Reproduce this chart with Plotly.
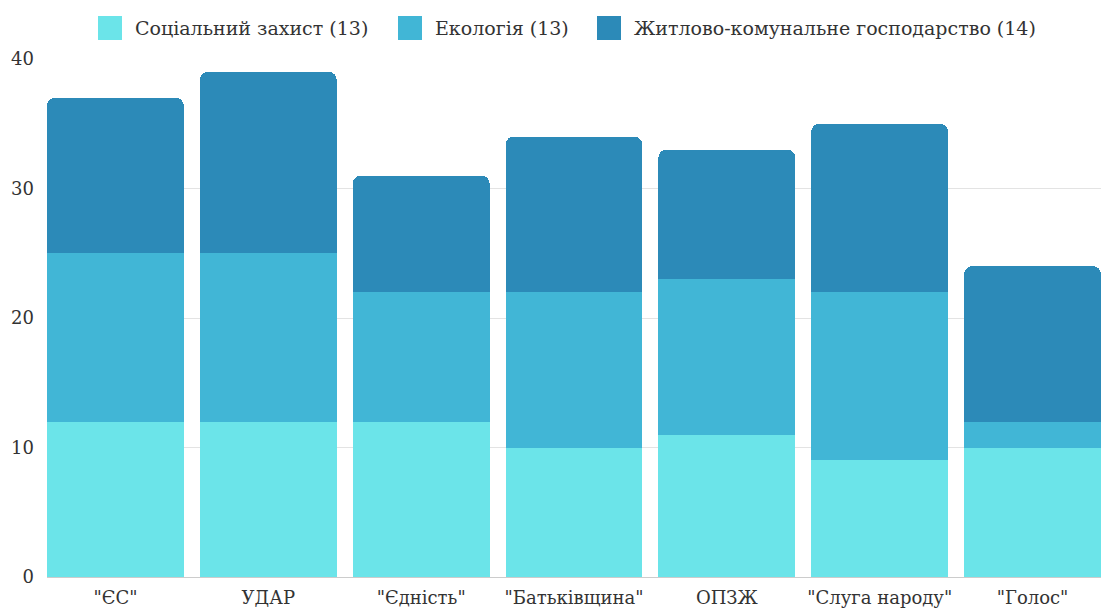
import plotly.graph_objects as go

categories = ['"ЄС"', 'УДАР', '"Єдність"', '"Батьківщина"', 'ОПЗЖ', '"Слуга народу"', '"Голос"']
social = [12, 12, 12, 10, 11, 9, 10]
ecology = [13, 13, 10, 12, 12, 13, 2]
housing = [12, 14, 9, 12, 10, 13, 12]

series_names = ["Соціальний захист (13)", "Екологія (13)", "Житлово-комунальне господарство (14)"]
colors = ["#6BE4E9", "#41B6D6", "#2C8AB8"]
legend_px = [98, 398, 597]  # left pixel of each legend square

FONT = "DejaVu Serif"
L, R, T, B, W, H = 47, 0, 59, 31, 1101, 608
pw, ph = W - L - R, H - T - B

fig = go.Figure()
for name, vals, col in zip(series_names, [social, ecology, housing], colors):
    fig.add_trace(go.Bar(x=categories, y=vals, name=name, showlegend=False,
                         marker=dict(color=col, line=dict(width=0))))

# custom legend (large squares)
for name, col, px in zip(series_names, colors, legend_px):
    x0 = (px - L) / pw
    x1 = (px + 24 - L) / pw
    y0 = (H - B - 40) / ph
    y1 = (H - B - 16) / ph
    fig.add_shape(type="rect", xref="paper", yref="paper", x0=x0, x1=x1, y0=y0, y1=y1,
                  fillcolor=col, line=dict(width=0))
    fig.add_annotation(xref="paper", yref="paper", x=(px + 35 - L) / pw, y=(H - B - 28) / ph,
                       xanchor="left", yanchor="middle", text=name, showarrow=False,
                       font=dict(family=FONT, size=19, color="#333333"))

gap = 16 / 153
fig.update_layout(
    barmode="stack",
    bargap=gap,
    barcornerradius=8,
    width=W, height=H,
    margin=dict(l=L, r=R, t=T, b=B),
    plot_bgcolor="white", paper_bgcolor="white",
    font=dict(family=FONT, size=18, color="#333333"),
    xaxis=dict(range=[-0.5 + gap / 2, 6.5 - gap / 2], showgrid=False, ticks="",
               tickfont=dict(family=FONT, size=18), showline=True, linecolor="#cccccc", linewidth=1,
               ticklabelstandoff=4),
    yaxis=dict(range=[0, 40], dtick=10, showgrid=True, gridcolor="#e3e3e3", gridwidth=1,
               zeroline=False, tickfont=dict(family=FONT, size=18), ticklabelstandoff=12),
)
fig.write_html("out.html")
